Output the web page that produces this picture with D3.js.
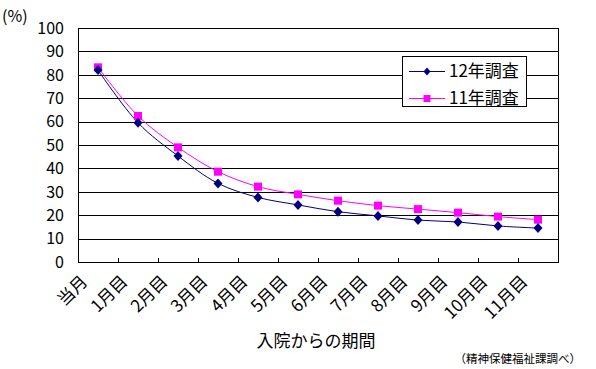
<!DOCTYPE html>
<html>
<head>
<meta charset="utf-8">
<script src="https://cdn.jsdelivr.net/npm/d3@7"></script>
<style>
  body { margin: 0; background: #fff; }
  text { font-family: "Noto Sans CJK JP", sans-serif; fill: #000; }
</style>
</head>
<body>
<div id="chart"></div>
<script>
// data
var months = ["当月", "1月目", "2月目", "3月目", "4月目", "5月目", "6月目", "7月目", "8月目", "9月目", "10月目", "11月目"];
var survey12 = [82.0, 59.5, 45.3, 33.6, 27.6, 24.4, 21.5, 19.7, 17.9, 17.1, 15.4, 14.5];
var survey11 = [83.2, 62.4, 49.0, 38.6, 32.2, 28.9, 26.2, 24.1, 22.6, 21.1, 19.4, 18.1];
var yTicks = [0, 10, 20, 30, 40, 50, 60, 70, 80, 90, 100];
var seriesNames = ["12年調査", "11年調査"];

var W = 596, H = 369;
var plotLeft = 78, plotRight = 558, plotTop = 28, plotBottom = 262;

var svg = d3.select("#chart").append("svg")
            .attr("width", W)
            .attr("height", H);

var x = d3.scaleBand().domain(months).range([plotLeft, plotRight]);
var y = d3.scaleLinear().domain([0, 100]).range([plotBottom, plotTop]);

// gridlines
svg.selectAll(".grid")
   .data(yTicks)
   .enter()
   .append("line")
   .attr("x1", plotLeft).attr("x2", plotRight + 1)
   .attr("y1", function(d) { return Math.round(y(d)) + 0.5; })
   .attr("y2", function(d) { return Math.round(y(d)) + 0.5; })
   .attr("stroke", "#000")
   .attr("stroke-width", 1);

// plot frame sides
svg.append("line").attr("x1", plotLeft + 0.5).attr("x2", plotLeft + 0.5)
   .attr("y1", plotTop).attr("y2", plotBottom + 1).attr("stroke", "#000");
svg.append("line").attr("x1", plotRight + 0.5).attr("x2", plotRight + 0.5)
   .attr("y1", plotTop).attr("y2", plotBottom + 1).attr("stroke", "#000");

// category ticks (pointing into the plot)
var tickPos = months.map(function(m) { return x(m); }).concat([plotRight]);
svg.selectAll(".xtick")
   .data(tickPos)
   .enter()
   .append("line")
   .attr("x1", function(d) { return Math.round(d) + 0.5; })
   .attr("x2", function(d) { return Math.round(d) + 0.5; })
   .attr("y1", plotBottom - 4).attr("y2", plotBottom)
   .attr("stroke", "#000");

// y tick labels
svg.selectAll(".ylab")
   .data(yTicks)
   .enter()
   .append("text")
   .attr("x", 64)
   .attr("y", function(d) { return y(d); })
   .attr("dy", "0.36em")
   .attr("text-anchor", "end")
   .style("font-size", "16px")
   .text(function(d) { return d; });

svg.append("text")
   .attr("x", 2).attr("y", 22)
   .style("font-size", "16px")
   .text("(%)");

// x labels rotated
svg.selectAll(".xlab")
   .data(months)
   .enter()
   .append("text")
   .attr("transform", function(d) {
     return "translate(" + (x(d) + x.bandwidth() / 2 - 19) + "," + 273 + ") rotate(-45)";
   })
   .attr("text-anchor", "end")
   .attr("dy", "0.8em")
   .style("font-size", "17px")
   .text(function(d) { return d; });

svg.append("text")
   .attr("x", 316).attr("y", 341)
   .attr("dy", "0.36em")
   .attr("text-anchor", "middle")
   .style("font-size", "17px")
   .text("入院からの期間");

svg.append("text")
   .attr("x", 581).attr("y", 359)
   .attr("dy", "0.36em")
   .attr("text-anchor", "end")
   .style("font-size", "11.5px")
   .text("（精神保健福祉課調べ）");

// lines
var cx = function(d, i) { return x(months[i]) + x.bandwidth() / 2; };
var line = d3.line()
             .x(cx)
             .y(function(d) { return y(d); })
             .curve(d3.curveCatmullRom.alpha(0.5));

svg.append("path").datum(survey11)
   .attr("d", line).attr("fill", "none")
   .attr("stroke", "#ff00ff").attr("stroke-width", 1);

svg.append("path").datum(survey12)
   .attr("d", line).attr("fill", "none")
   .attr("stroke", "#000080").attr("stroke-width", 1);

svg.selectAll(".sq")
   .data(survey11)
   .enter()
   .append("rect")
   .attr("x", function(d, i) { return cx(d, i) - 4; })
   .attr("y", function(d) { return y(d) - 4; })
   .attr("width", 8).attr("height", 8)
   .attr("fill", "#ff00ff");

var diamond = "M0,-5L4.5,0L0,5L-4.5,0Z";
svg.selectAll(".dm")
   .data(survey12)
   .enter()
   .append("path")
   .attr("d", diamond)
   .attr("transform", function(d, i) { return "translate(" + cx(d, i) + "," + y(d) + ")"; })
   .attr("fill", "#000080");

// legend
var lg = svg.append("g");
lg.append("rect")
  .attr("x", 402.5).attr("y", 56.5)
  .attr("width", 124).attr("height", 50)
  .attr("fill", "#fff").attr("stroke", "#000");

var legendColors = ["#000080", "#ff00ff"];
var legendY = [71, 98];
seriesNames.forEach(function(name, i) {
  lg.append("line")
    .attr("x1", 409).attr("x2", 445)
    .attr("y1", legendY[i] + 0.5).attr("y2", legendY[i] + 0.5)
    .attr("stroke", legendColors[i]);
  if (i == 0) {
    lg.append("path").attr("d", "M0,-4L3.5,0L0,4L-3.5,0Z")
      .attr("transform", "translate(427," + (legendY[i] + 0.5) + ")")
      .attr("fill", legendColors[i]);
  } else {
    lg.append("rect")
      .attr("x", 423.5).attr("y", legendY[i] - 3)
      .attr("width", 7).attr("height", 7)
      .attr("fill", legendColors[i]);
  }
  lg.append("text")
    .attr("x", 449).attr("y", legendY[i])
    .attr("dy", "0.36em")
    .style("font-size", "17px")
    .text(name);
});
</script>
</body>
</html>
